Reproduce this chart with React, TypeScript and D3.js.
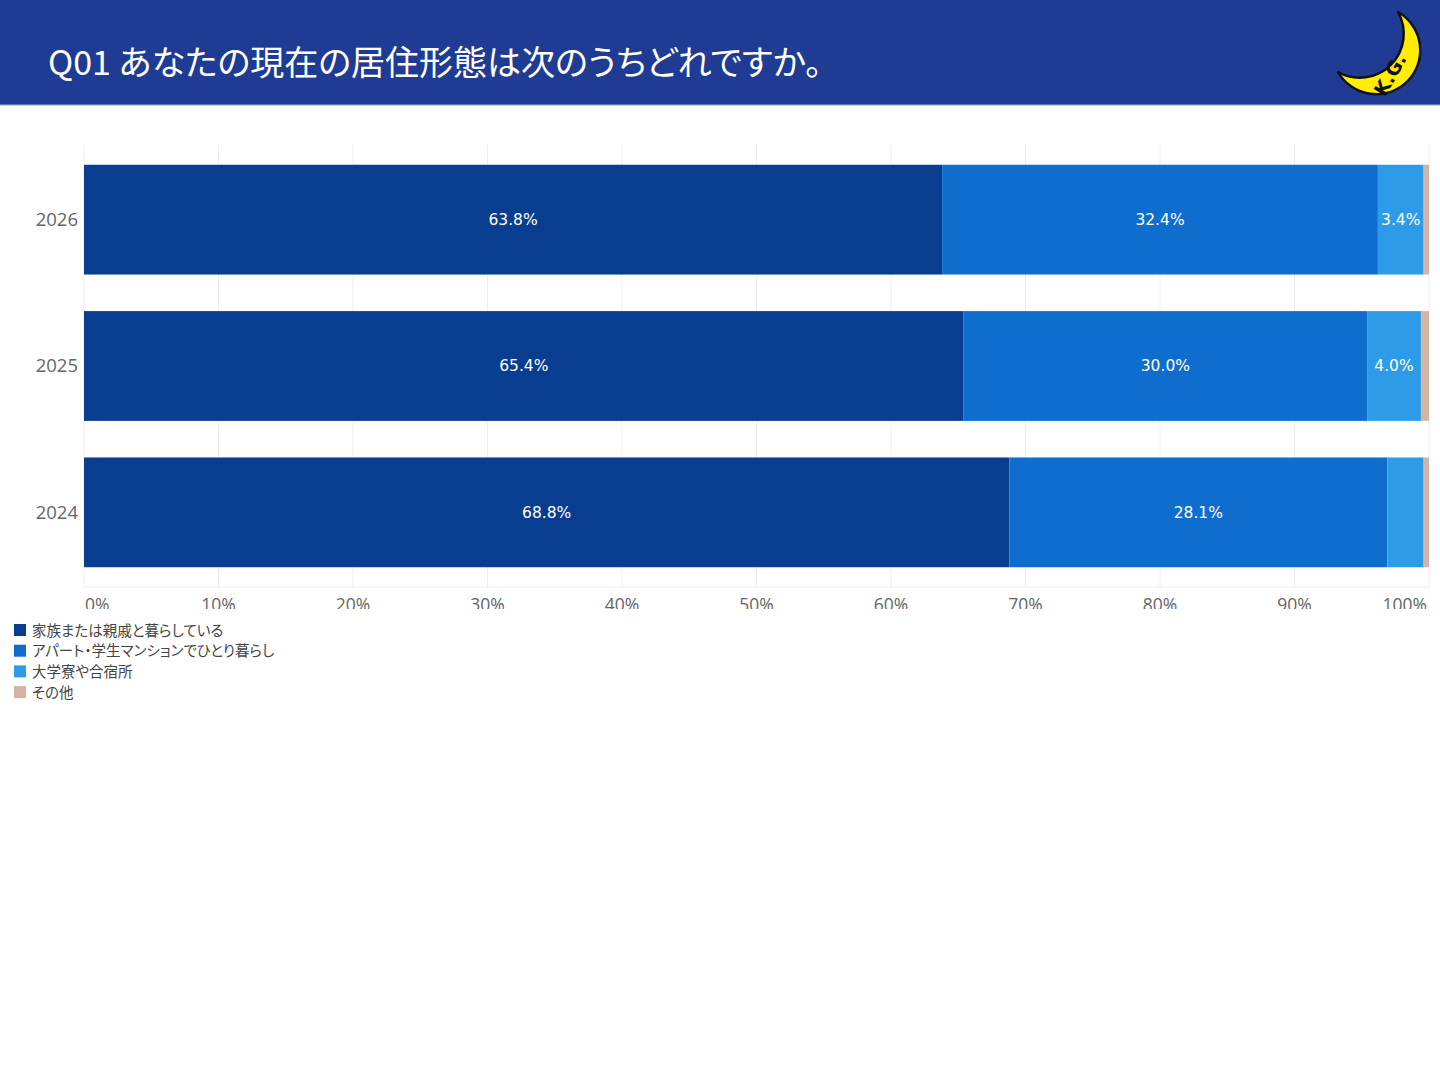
import React from 'react';
import * as d3 from 'd3';

const years = ['2026', '2025', '2024'];
const seriesNames = [
  '家族または親戚と暮らしている',
  'アパート・学生マンションでひとり暮らし',
  '大学寮や合宿所',
  'その他',
];
const familyValues = [63.8, 65.4, 68.8];
const aloneValues = [32.4, 30.0, 28.1];
const dormValues = [3.4, 4.0, 2.7];
const otherValues = [0.4, 0.6, 0.4];
const xTicks = [0, 10, 20, 30, 40, 50, 60, 70, 80, 90, 100];
const colors = ['#083d8f', '#0f6ecd', '#2e9be8', '#d6b3a4'];

const W = 1440;
const H = 1080;
const margin = { top: 145, left: 84, right: 11, bottom: 493 };

export default function App() {
  const innerW = W - margin.left - margin.right;
  const plotBottom = H - margin.bottom;

  const x = d3.scaleLinear().domain([0, 100]).range([margin.left, margin.left + innerW]);
  const y = d3.scaleBand().domain(years).range([margin.top, plotBottom]).paddingInner(0.25).paddingOuter(0.135);

  const allSeries = [familyValues, aloneValues, dormValues, otherValues];
  const stackRows = years.map((yr, i) => {
    const row: Record<string, number | string> = { year: yr };
    allSeries.forEach((s, k) => (row['s' + k] = s[i]));
    return row;
  });
  const stack = d3.stack<Record<string, number | string>>().keys(allSeries.map((_, k) => 's' + k))
    .value((d, key) => d[key] as number);
  const layers = stack(stackRows);

  // moon logo
  const tip1 = [1398, 12];
  const tip2 = [1338, 72];
  const moonPath = `M${tip1[0]},${tip1[1]} A44,44 0 1 1 ${tip2[0]},${tip2[1]} A44,44 0 0 0 ${tip1[0]},${tip1[1]} Z`;

  const palt = { fontFeatureSettings: "'palt'" };

  return (
    <div style={{ position: 'absolute', left: 0, top: 0, width: W, height: H, background: '#fff' }}>
      <svg width={W} height={H} viewBox={`0 0 ${W} ${H}`} style={{ display: 'block' }}>
        <defs>
          <clipPath id="axisClip">
            <rect x={0} y={0} width={W} height={609} />
          </clipPath>
        </defs>

        {/* header */}
        <rect x={0} y={0} width={W} height={105} fill="#1f3b93" />
        <rect x={0} y={104} width={W} height={2} fill="#8fa3d6" opacity={0.6} />
        <text x={48} y={75} fill="#fff" fontSize={34} fontFamily="'Noto Sans CJK JP', sans-serif" style={palt}>
          Q01 あなたの現在の居住形態は次のうちどれですか。
        </text>
        <path d={moonPath} fill="#ffee00" stroke="#111" strokeWidth={2.5} strokeLinejoin="round" />
        <text
          transform="translate(1396,78) rotate(-60)"
          fontSize={19}
          fontWeight="bold"
          fontFamily="'DejaVu Sans', sans-serif"
          fill="#111"
          textAnchor="middle"
        >
          K.G.
        </text>

        {/* grid */}
        {xTicks.map((t) => (
          <line key={t} x1={x(t)} x2={x(t)} y1={margin.top} y2={plotBottom} stroke="#eeeeee" strokeWidth={1} />
        ))}
        <line x1={margin.left} x2={x(100)} y1={plotBottom} y2={plotBottom} stroke="#eeeeee" />

        {/* bars */}
        {layers.map((layer, k) => (
          <g key={layer.key}>
            {layer.map((d, i) => {
              const x0 = x(d[0]);
              const x1 = x(d[1]);
              const by = y(years[i])!;
              const bw = x1 - x0;
              const val = allSeries[k][i];
              return (
                <g key={i}>
                  <rect x={x0} y={by} width={bw} height={y.bandwidth()} fill={colors[k]} />
                  {bw > 40 && (
                    <text
                      x={(x0 + x1) / 2}
                      y={by + y.bandwidth() / 2}
                      dy="0.35em"
                      textAnchor="middle"
                      fill="#fff"
                      fontSize={15.5}
                      fontFamily="'DejaVu Sans', sans-serif"
                    >
                      {val.toFixed(1)}%
                    </text>
                  )}
                </g>
              );
            })}
          </g>
        ))}

        {/* y axis labels */}
        {years.map((yr) => (
          <text
            key={yr}
            x={78}
            y={y(yr)! + y.bandwidth() / 2}
            dy="0.35em"
            textAnchor="end"
            fill="#666"
            fontSize={18.5}
            fontFamily="'Open Sans', sans-serif"
          >
            {yr}
          </text>
        ))}

        {/* x axis labels, cut off at bottom like the original */}
        <g clipPath="url(#axisClip)">
          {xTicks.map((t, i) => {
            const anchor = i === 0 ? 'start' : i === xTicks.length - 1 ? 'end' : 'middle';
            const dx = i === 0 ? 1 : i === xTicks.length - 1 ? -2 : 0;
            return (
              <text
                key={t}
                x={x(t) + dx}
                y={611}
                textAnchor={anchor}
                fill="#666"
                fontSize={17.5}
                fontFamily="'Open Sans', sans-serif"
              >
                {t}%
              </text>
            );
          })}
        </g>

        {/* legend */}
        {seriesNames.map((name, k) => (
          <g key={name} transform={`translate(14, ${624 + k * 20.7})`}>
            <rect x={0} y={0} width={12} height={12} fill={colors[k]} />
            <text
              x={18}
              y={6}
              dy="0.38em"
              fill="#444"
              fontSize={14.5}
              fontFamily="'Noto Sans CJK JP', sans-serif"
              style={palt}
            >
              {name}
            </text>
          </g>
        ))}
      </svg>
    </div>
  );
}
